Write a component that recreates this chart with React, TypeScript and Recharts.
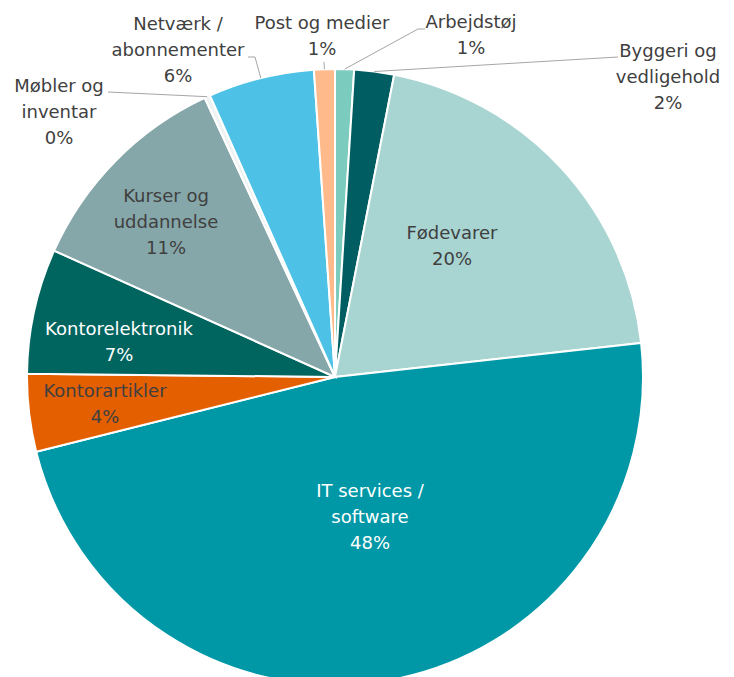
import { PieChart, Pie, Cell } from "recharts";

// slices in drawing order, clockwise from 12 o'clock
const categories = [
    "Arbejdstøj",
    "Byggeri og vedligehold",
    "Fødevarer",
    "IT services / software",
    "Kontorartikler",
    "Kontorelektronik",
    "Kurser og uddannelse",
    "Møbler og inventar",
    "Netværk / abonnementer",
    "Post og medier",
];
const shares = [1.0, 2.1, 20.3, 48.2, 4.1, 6.6, 11.4, 0.3, 5.6, 1.1];

const COLORS = [
    "#7ccbbf",
    "#005e62",
    "#a8d4d2",
    "#0098a6",
    "#e35f00",
    "#00655f",
    "#86a7a9",
    "#eef2f2",
    "#4dc2e6",
    "#ffba8c",
];
const TEXT_COLORS = ["#404040", "#404040", "#404040", "#ffffff", "#404040", "#ffffff", "#404040", "#404040", "#404040", "#404040"];

// label placement relative to the pie centre (first baseline, centred text)
const LABEL_POS: { dx: number; dy: number; wrap: number; leader?: number[][] }[] = [
    { dx: 136, dy: -349, wrap: 14, leader: [[83, -348], [90, -348]] },
    { dx: 333, dy: -320, wrap: 12, leader: [[283, -320]] },
    { dx: 117, dy: -138, wrap: 12 },
    { dx: 35, dy: 120, wrap: 13 },
    { dx: -230, dy: 20, wrap: 12 },
    { dx: -216, dy: -42, wrap: 12 },
    { dx: -169, dy: -175, wrap: 12 },
    { dx: -276, dy: -285, wrap: 12, leader: [[-227, -285]] },
    { dx: -157, dy: -347, wrap: 12, leader: [[-80, -320], [-87, -320]] },
    { dx: -13, dy: -348, wrap: 16, leader: [[-11, -315]] },
];

const LINE_HEIGHT = 26;
const FONT = "DejaVu Sans";

const total = shares.reduce((a, b) => a + b, 0);
const data = categories.map((name, i) => ({ name, value: shares[i] }));

function wrapText(text: string, max: number) {
    const words = text.split(" ");
    const lines: string[] = [];
    let cur = "";
    for (const w of words) {
        const next = cur ? cur + " " + w : w;
        if (next.length > max && cur) {
            lines.push(cur);
            cur = w;
        } else {
            cur = next;
        }
    }
    if (cur) lines.push(cur);
    return lines;
}

const renderLabel = (props: any) => {
    const { cx, cy, midAngle, outerRadius, index } = props;
    const pos = LABEL_POS[index];
    const RAD = Math.PI / 180;
    const sx = cx + outerRadius * Math.cos(-midAngle * RAD);
    const sy = cy + outerRadius * Math.sin(-midAngle * RAD);
    const lines = [
        ...wrapText(categories[index], pos.wrap),
        `${Math.round((shares[index] / total) * 100)}%`,
    ];

    let leaderPath = "";
    if (pos.leader) {
        leaderPath =
            `M${sx},${sy}` +
            pos.leader.map(([x, y]) => ` L${cx + x},${cy + y}`).join("");
    }

    return (
        <g key={`label-${index}`}>
            {leaderPath && (
                <path d={leaderPath} stroke="#a6a6a6" strokeWidth={1} fill="none" />
            )}
            {lines.map((line, i) => (
                <text
                    key={i}
                    x={cx + pos.dx}
                    y={cy + pos.dy + i * LINE_HEIGHT}
                    textAnchor="middle"
                    fontFamily={FONT}
                    fontSize={18}
                    fill={TEXT_COLORS[index]}
                >
                    {line}
                </text>
            ))}
        </g>
    );
};

export default function App() {
    return (
        <div
            style={{
                position: "absolute",
                left: 0,
                top: 0,
                width: 734,
                height: 677,
                overflow: "hidden",
                background: "#ffffff",
            }}
        >
            <PieChart width={734} height={677} margin={{ top: 0, right: 0, bottom: 0, left: 0 }}>
                <Pie
                    data={data}
                    dataKey="value"
                    nameKey="name"
                    cx={335}
                    cy={377}
                    outerRadius={308}
                    startAngle={90}
                    endAngle={-270}
                    stroke="#ffffff"
                    strokeWidth={2}
                    label={renderLabel}
                    labelLine={false}
                    isAnimationActive={false}
                >
                    {data.map((_, index) => (
                        <Cell key={`cell-${index}`} fill={COLORS[index]} />
                    ))}
                </Pie>
            </PieChart>
        </div>
    );
}
